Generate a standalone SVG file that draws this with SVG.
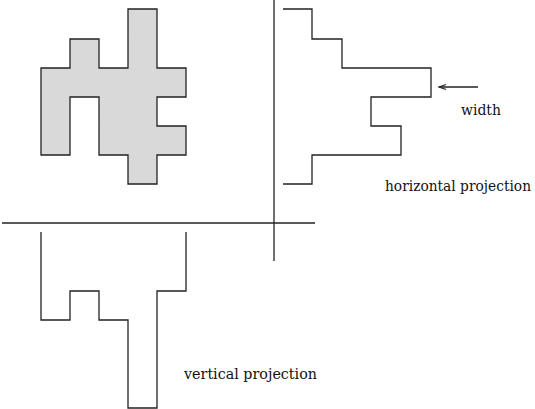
<svg xmlns="http://www.w3.org/2000/svg" width="535" height="409" viewBox="0 0 535 409">
<defs>
<style>
.ln{fill:none;stroke:#222;stroke-width:1.3}
.sh{fill:#d9d9d9;stroke:#222;stroke-width:1.3}
.tx{font-family:"DejaVu Serif",serif;font-size:14px;fill:#111}
</style>
<marker id="ah" markerWidth="10" markerHeight="8" refX="8" refY="4" orient="auto" markerUnits="userSpaceOnUse">
<path d="M1,1.5 L8,4 L1,6.5" fill="none" stroke="#222" stroke-width="1.2"/>
</marker>
</defs>
<rect width="535" height="409" fill="#fff"/>
<g id="shape">
<path class="sh" d="M128,9 H157 V68 H186 V97 H157 V126 H186 V155 H157 V184 H128 V155 H99 V97 H70 V155 H41 V68 H70 V39 H99 V68 H128 Z"/>
</g>
<g id="axes">
<line class="ln" x1="274" y1="0" x2="274" y2="261"/>
<line class="ln" x1="2" y1="223" x2="315" y2="223"/>
</g>
<g id="hproj">
<path class="ln" d="M283,9 H312 V39 H342 V68 H431 V97 H371 V126 H401 V155 H312 V184 H283"/>
</g>
<g id="vproj">
<path class="ln" d="M41,232 V320 H70 V291 H99 V320 H128 V408 H157 V291 H186 V232"/>
</g>
<g id="connectors">
<line class="ln" x1="478" y1="87" x2="439" y2="87" marker-end="url(#ah)"/>
</g>
<g id="labels">
<text class="tx" x="461" y="115" textLength="40" lengthAdjust="spacingAndGlyphs">width</text>
<text class="tx" x="385" y="190.5" textLength="146" lengthAdjust="spacingAndGlyphs">horizontal projection</text>
<text class="tx" x="184" y="379" textLength="133" lengthAdjust="spacingAndGlyphs">vertical projection</text>
</g>
</svg>
